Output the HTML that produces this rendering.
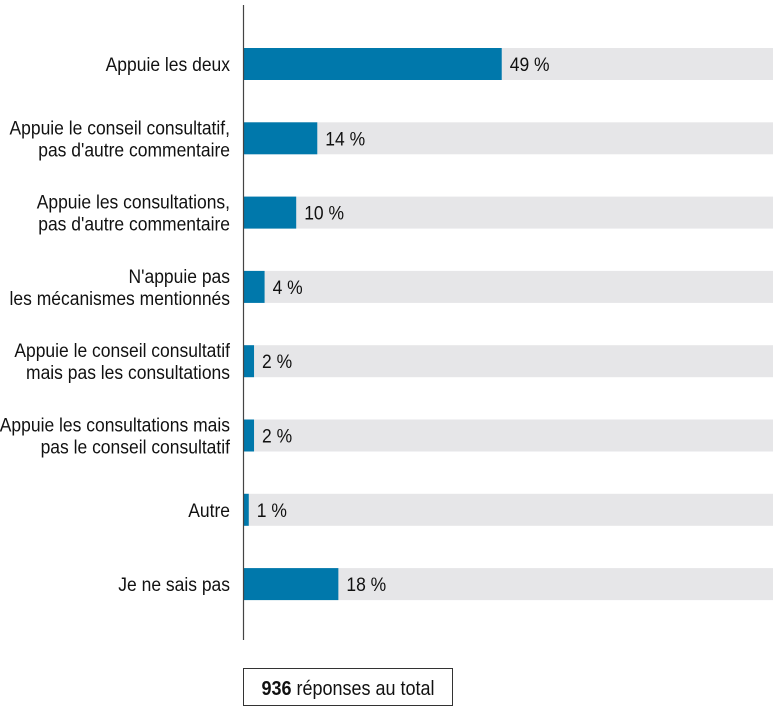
<!DOCTYPE html>
<html><head><meta charset="utf-8"><style>
html,body{margin:0;padding:0;background:#fff;width:773px;height:715px;overflow:hidden}
svg{display:block}
text{font-family:"Liberation Sans Narrow","Liberation Sans",sans-serif;font-size:19px;fill:#111}
</style></head><body>
<svg id="chart" width="773" height="715">
<g id="bg"></g><g id="bars"></g><g id="labels"></g><g id="values"></g>
<line x1="243.5" y1="5" x2="243.5" y2="640" stroke="#444" stroke-width="1.2"/>
<rect x="243.5" y="668.5" width="209" height="37" fill="#fff" stroke="#333" stroke-width="1"/>
<text transform="translate(348 695) scale(0.9 1)" x="0" y="0" text-anchor="middle" style="font-size:20px"><tspan font-weight="bold">936</tspan> réponses au total</text>
</svg>
<script>
const categories=[["Appuie les deux"],["Appuie le conseil consultatif,","pas d'autre commentaire"],["Appuie les consultations,","pas d'autre commentaire"],["N'appuie pas","les mécanismes mentionnés"],["Appuie le conseil consultatif","mais pas les consultations"],["Appuie les consultations mais","pas le conseil consultatif"],["Autre"],["Je ne sais pas"]];
const values=[49,14,10,4,2,2,1,18];
const valueLabels=["49 %","14 %","10 %","4 %","2 %","2 %","1 %","18 %"];
const NS="http://www.w3.org/2000/svg";
const x0=243.5,pxPer=5.27,top0=64,step=74.3,bh=32,sx=0.92;
function xS(v){return x0+v*pxPer;}
function yC(i){return top0+i*step;}
function mk(tag,attrs,parent){const e=document.createElementNS(NS,tag);for(const k in attrs)e.setAttribute(k,attrs[k]);document.getElementById(parent).appendChild(e);return e;}
values.forEach((v,i)=>{
  const bg=mk('rect',{x:x0,y:yC(i)-bh/2,width:773-x0,height:bh,fill:'#e6e6e8'},'bg');
  
  
  const b=mk('rect',{x:x0,y:yC(i)-bh/2,width:xS(v)-x0,height:bh,fill:'#0078ab'},'bars');
  
  
  const t=mk('text',{x:0,y:0,transform:'translate('+(xS(v)+8)+' '+(yC(i)+7)+') scale('+sx+' 1)'},'values');
  t.textContent=valueLabels[i];
  
  
  const lines=categories[i];
  const l=mk('text',{'text-anchor':'end',transform:'translate(230 0) scale('+sx+' 1)'},'labels');
  
  
  const startY=yC(i)+7-(lines.length-1)*11;
  lines.forEach((s,j)=>{const ts=document.createElementNS(NS,'tspan');ts.setAttribute('x',0);ts.setAttribute('y',startY+j*22);ts.textContent=s;l.appendChild(ts);});
});
</script>
</body></html>
